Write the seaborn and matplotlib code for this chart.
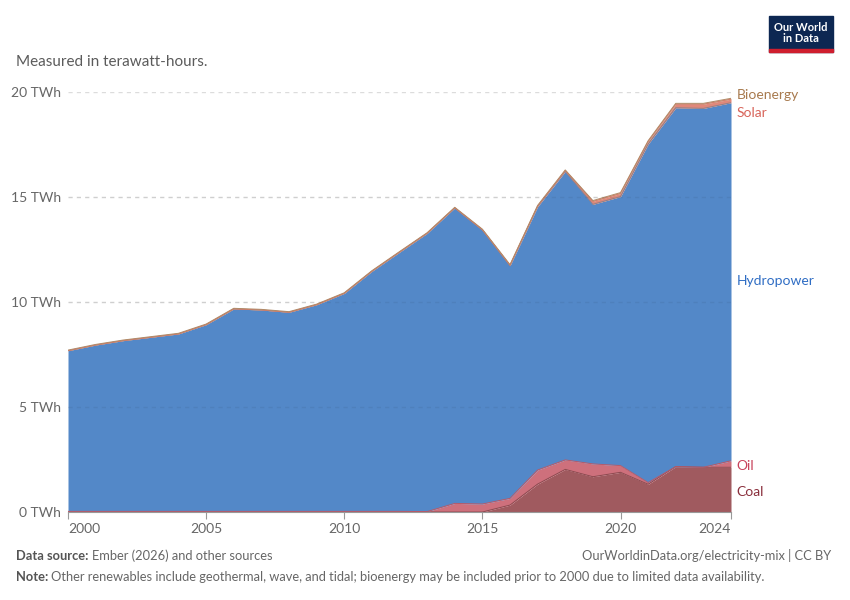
import numpy as np
import pandas as pd
import seaborn as sns
import matplotlib.pyplot as plt
from matplotlib.patches import Rectangle

# Values (TWh)
years = list(range(2000, 2025))
coal = [0, 0, 0, 0, 0, 0, 0, 0, 0, 0, 0, 0, 0, 0, 0, 0,
        0.33, 1.33, 2.03, 1.68, 1.89, 1.32, 2.16, 2.13, 2.13]
oil = [0.03, 0.03, 0.03, 0.03, 0.03, 0.03, 0.03, 0.03, 0.03, 0.03, 0.03, 0.03, 0.03, 0.02, 0.41, 0.38,
       0.32, 0.67, 0.45, 0.61, 0.32, 0.08, 0.0, 0.0, 0.31]
hydro = [7.65, 7.92, 8.13, 8.29, 8.45, 8.89, 9.64, 9.59, 9.48, 9.84, 10.38, 11.43, 12.34, 13.25, 14.07, 13.05,
         11.08, 12.54, 13.74, 12.36, 12.81, 16.12, 17.09, 17.09, 17.05]
solar = [0, 0, 0, 0, 0, 0, 0, 0, 0, 0, 0, 0, 0, 0, 0, 0.01,
         0.02, 0.03, 0.04, 0.14, 0.15, 0.12, 0.17, 0.20, 0.17]
bio = [0.03] * 19 + [0.04, 0.04, 0.04, 0.04, 0.04, 0.04]

sources = ["Coal", "Oil", "Hydropower", "Solar", "Bioenergy"]
fill_colors = ["#a05a5f", "#ce707c", "#5388c8", "#e0887a", "#c09a72"]
label_colors = ["#8a2f3c", "#c8435c", "#2f6dc4", "#d8645a", "#a87a4e"]
label_y = [0.95, 2.2, 11.0, 19.0, 19.85]

df = pd.DataFrame({"year": years, "Coal": coal, "Oil": oil, "Hydropower": hydro,
                   "Solar": solar, "Bioenergy": bio})

sns.set_style("white")
plt.rcParams['font.family'] = ['Lato', 'DejaVu Sans']

fig = plt.figure(figsize=(8.5, 6), dpi=100)
ax = fig.add_axes([68 / 850, 88 / 600, 663 / 850, 420 / 600])

# gridlines behind the areas
for v in [5, 10, 15, 20]:
    ax.axhline(v, color="#dcdcdc", linestyle=(0, (3, 3)), linewidth=1, zorder=1)

ax.stackplot(df["year"], [df[s] for s in sources], colors=fill_colors,
             linewidth=0, zorder=2)

# thin edge lines along each stacked layer
cum = df[sources].cumsum(axis=1)
edge_colors = ["#8c4a50", "#b85a68", "#8f8088", "#d67a6c", "#b08a66"]
for s, c in zip(sources, edge_colors):
    sns.lineplot(x=df["year"], y=cum[s], ax=ax, color=c, linewidth=0.7, zorder=3)

# faint dashes visible over the filled areas
for v in [5, 10, 15]:
    ax.axhline(v, color="#000000", alpha=0.06, linestyle=(0, (3, 3)), linewidth=1, zorder=4)

ax.set_xlim(2000, 2024)
ax.set_ylim(0, 20)
ax.set_xlabel("")
ax.set_ylabel("")

for sp in ["top", "right", "left"]:
    ax.spines[sp].set_visible(False)
ax.spines["bottom"].set_color("#999999")
ax.spines["bottom"].set_linewidth(0.8)

ax.set_yticks([0, 5, 10, 15, 20])
ax.set_yticklabels(["0 TWh", "5 TWh", "10 TWh", "15 TWh", "20 TWh"])
ax.tick_params(axis="y", length=0, pad=5, labelsize=10, labelcolor="#666666")

xt = [2000, 2005, 2010, 2015, 2020, 2024]
ax.set_xticks(xt)
ax.set_xticklabels([str(x) for x in xt])
ax.tick_params(axis="x", length=5, width=0.8, color="#999999", pad=3,
               labelsize=10, labelcolor="#666666", bottom=True)
xl = ax.get_xticklabels()
xl[0].set_ha("left")
xl[-1].set_ha("right")

# right side labels
for s, c, y in zip(sources, label_colors, label_y):
    ax.text(2024.2, y, s, color=c, fontsize=10, va="center", ha="left", clip_on=False)

fig.text(16 / 850, 1 - 62 / 600, "Measured in terawatt-hours.", fontsize=11,
         color="#5b5b5b", va="center", ha="left")

# logo
fig.patches.append(Rectangle((769 / 850, 1 - 52 / 600), 64 / 850, 36 / 600,
                             transform=fig.transFigure, color="#0d2752", zorder=5))
fig.patches.append(Rectangle((769 / 850, 1 - 52 / 600), 64 / 850, 3 / 600,
                             transform=fig.transFigure, color="#cf1e2e", zorder=6))
fig.text(801 / 850, 1 - 33 / 600, "Our World\nin Data", color="white", fontsize=8,
         fontweight="bold", ha="center", va="center", linespacing=1.0, zorder=7)

# footer: bold prefix followed by regular text
renderer = fig.canvas.get_renderer()


def footer_line(y_px, bold, rest):
    t = fig.text(16 / 850, 1 - y_px / 600, bold, fontsize=9.3, color="#555555",
                 fontweight="bold", va="center")
    w = t.get_window_extent(renderer=renderer).width
    fig.text((16 + w + 3) / 850, 1 - y_px / 600, rest, fontsize=9.3,
             color="#666666", va="center")


footer_line(556, "Data source:", "Ember (2026) and other sources")
fig.text(831 / 850, 1 - 556 / 600, "OurWorldinData.org/electricity-mix | CC BY",
         fontsize=9.3, color="#666666", va="center", ha="right")
footer_line(577, "Note:",
            "Other renewables include geothermal, wave, and tidal; bioenergy may be included "
            "prior to 2000 due to limited data availability.")

fig.savefig("out.png", dpi=100)
